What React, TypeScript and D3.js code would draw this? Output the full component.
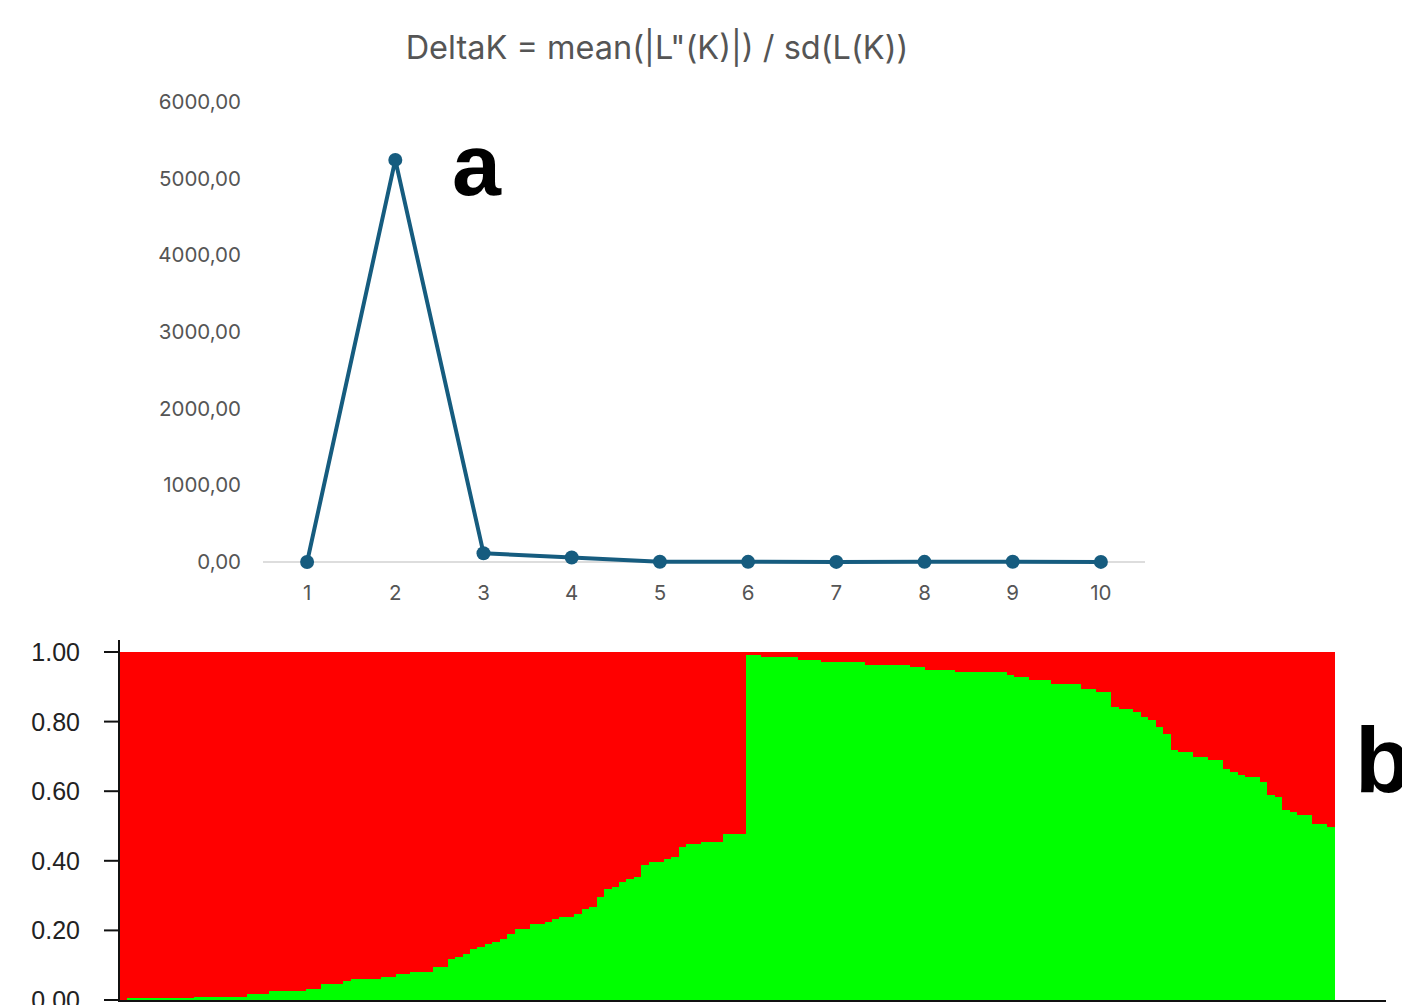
import React, { useEffect, useRef } from "react";
import * as d3 from "d3";

// panel a: DeltaK by K
const kValues = [1, 2, 3, 4, 5, 6, 7, 8, 9, 10];
const deltaK = [0, 5245, 115, 58, 3, 2, 1, 2, 4, 1];
const deltaTicks = [0, 1000, 2000, 3000, 4000, 5000, 6000];

// panel b: membership proportion of cluster 2 (green) per individual, cluster 1 (red) is the rest
const greenShare = [
  0, 0.005, 0.005, 0.005, 0.005, 0.005, 0.005, 0.005, 0.005, 0.005,
  0.01, 0.01, 0.01, 0.01, 0.01, 0.01, 0.01, 0.017, 0.017, 0.017,
  0.025, 0.025, 0.025, 0.025, 0.025, 0.032, 0.032, 0.046, 0.046, 0.046,
  0.054, 0.06, 0.06, 0.06, 0.06, 0.067, 0.067, 0.075, 0.075, 0.081,
  0.081, 0.081, 0.096, 0.096, 0.117, 0.124, 0.132, 0.146, 0.153, 0.161,
  0.168, 0.174, 0.189, 0.203, 0.203, 0.218, 0.218, 0.225, 0.232, 0.239,
  0.239, 0.246, 0.261, 0.268, 0.297, 0.318, 0.326, 0.34, 0.347, 0.354,
  0.388, 0.397, 0.397, 0.404, 0.412, 0.439, 0.447, 0.447, 0.455, 0.455,
  0.455, 0.477, 0.477, 0.477, 0.991, 0.991, 0.985, 0.985, 0.985, 0.985,
  0.985, 0.977, 0.977, 0.977, 0.97, 0.97, 0.97, 0.97, 0.97, 0.97,
  0.963, 0.963, 0.963, 0.963, 0.963, 0.963, 0.956, 0.956, 0.948, 0.948,
  0.948, 0.948, 0.942, 0.942, 0.942, 0.942, 0.942, 0.942, 0.942, 0.934,
  0.927, 0.927, 0.92, 0.92, 0.92, 0.907, 0.907, 0.907, 0.907, 0.893,
  0.893, 0.884, 0.884, 0.841, 0.835, 0.835, 0.827, 0.812, 0.805, 0.784,
  0.763, 0.718, 0.712, 0.712, 0.697, 0.697, 0.69, 0.69, 0.663, 0.654,
  0.647, 0.64, 0.64, 0.626, 0.589, 0.582, 0.546, 0.54, 0.532, 0.532,
  0.505, 0.505, 0.498,
];
const shareTicks = [0, 0.2, 0.4, 0.6, 0.8, 1];

const App = () => {
  const svgRef = useRef<SVGSVGElement>(null);

  useEffect(() => {
    const width = 1402;
    const height = 1005;
    const svg = d3.select(svgRef.current).attr("width", width).attr("height", height);
    svg.selectAll("*").remove();

    // ---------- panel a ----------
    const xK = d3.scalePoint<number>().domain(kValues).range([263, 1145]).padding(0.5);
    const yD = d3.scaleLinear().domain([0, 6000]).range([562, 102]);
    const fmt = (v: number) => d3.format(".2f")(v).replace(".", ",");

    svg.append("text")
      .attr("x", 657)
      .attr("y", 59)
      .attr("text-anchor", "middle")
      .attr("font-family", "Inter, sans-serif")
      .attr("font-size", 32.5)
      .attr("fill", "#555")
      .text('DeltaK = mean(|L"(K)|) / sd(L(K))');

    svg.append("line")
      .attr("x1", 263).attr("x2", 1145)
      .attr("y1", yD(0)).attr("y2", yD(0))
      .attr("stroke", "#ddd")
      .attr("stroke-width", 2);

    svg.append("g")
      .selectAll("text")
      .data(deltaTicks)
      .join("text")
      .attr("x", 241)
      .attr("y", d => yD(d) + 7)
      .attr("text-anchor", "end")
      .attr("font-family", "Inter, sans-serif")
      .attr("font-size", 20.5)
      .attr("fill", "#555")
      .text(d => fmt(d));

    svg.append("g")
      .selectAll("text")
      .data(kValues)
      .join("text")
      .attr("x", d => xK(d)!)
      .attr("y", 600)
      .attr("text-anchor", "middle")
      .attr("font-family", "Inter, sans-serif")
      .attr("font-size", 20.5)
      .attr("fill", "#555")
      .text(d => d);

    const line = d3.line<number>()
      .x((d, i) => xK(kValues[i])!)
      .y(d => yD(d));

    svg.append("path")
      .datum(deltaK)
      .attr("fill", "none")
      .attr("stroke", "#165c7f")
      .attr("stroke-width", 4)
      .attr("stroke-linejoin", "round")
      .attr("d", line);

    svg.append("g")
      .selectAll("circle")
      .data(deltaK)
      .join("circle")
      .attr("cx", (d, i) => xK(kValues[i])!)
      .attr("cy", d => yD(d))
      .attr("r", 7)
      .attr("fill", "#165c7f");

    svg.append("text")
      .attr("x", 452)
      .attr("y", 195)
      .attr("font-family", "Liberation Sans, Arial, sans-serif")
      .attr("font-weight", "bold")
      .attr("font-size", 88)
      .attr("fill", "#000")
      .text("a");

    // ---------- panel b ----------
    const idx = greenShare.map((d, i) => i);
    const xI = d3.scaleBand<number>().domain(idx).range([120, 1334]).padding(0);
    const yS = d3.scaleLinear().domain([0, 1]).range([1000, 652]);

    const bars = svg.append("g").attr("shape-rendering", "crispEdges");
    bars.selectAll("rect.red")
      .data(greenShare)
      .join("rect")
      .attr("class", "red")
      .attr("x", (d, i) => xI(i)!)
      .attr("width", xI.bandwidth() + 0.5)
      .attr("y", yS(1))
      .attr("height", d => yS(d) - yS(1))
      .attr("fill", "#ff0000");
    bars.selectAll("rect.green")
      .data(greenShare)
      .join("rect")
      .attr("class", "green")
      .attr("x", (d, i) => xI(i)!)
      .attr("width", xI.bandwidth() + 0.5)
      .attr("y", d => yS(d))
      .attr("height", d => yS(0) - yS(d))
      .attr("fill", "#00ff00");

    const axis = svg.append("g");
    axis.append("line")
      .attr("x1", 119).attr("x2", 119)
      .attr("y1", 640).attr("y2", 1002)
      .attr("stroke", "#111").attr("stroke-width", 2);
    axis.append("line")
      .attr("x1", 118).attr("x2", 1386)
      .attr("y1", 1001).attr("y2", 1001)
      .attr("stroke", "#111").attr("stroke-width", 2);
    axis.selectAll("line.tick")
      .data(shareTicks)
      .join("line")
      .attr("class", "tick")
      .attr("x1", 104).attr("x2", 119)
      .attr("y1", d => yS(d)).attr("y2", d => yS(d))
      .attr("stroke", "#111").attr("stroke-width", 2);
    axis.selectAll("text")
      .data(shareTicks)
      .join("text")
      .attr("x", 80)
      .attr("y", d => yS(d) + 9)
      .attr("text-anchor", "end")
      .attr("font-family", "Liberation Sans, Arial, sans-serif")
      .attr("font-size", 25)
      .attr("fill", "#222")
      .text(d => d.toFixed(2));

    svg.append("text")
      .attr("x", 1355)
      .attr("y", 792)
      .attr("font-family", "Liberation Sans, Arial, sans-serif")
      .attr("font-weight", "bold")
      .attr("font-size", 92)
      .attr("fill", "#000")
      .text("b");
  }, []);

  return (
    <svg
      ref={svgRef}
      style={{ position: "absolute", left: 0, top: 0, background: "#fff" }}
    ></svg>
  );
};

export default App;
